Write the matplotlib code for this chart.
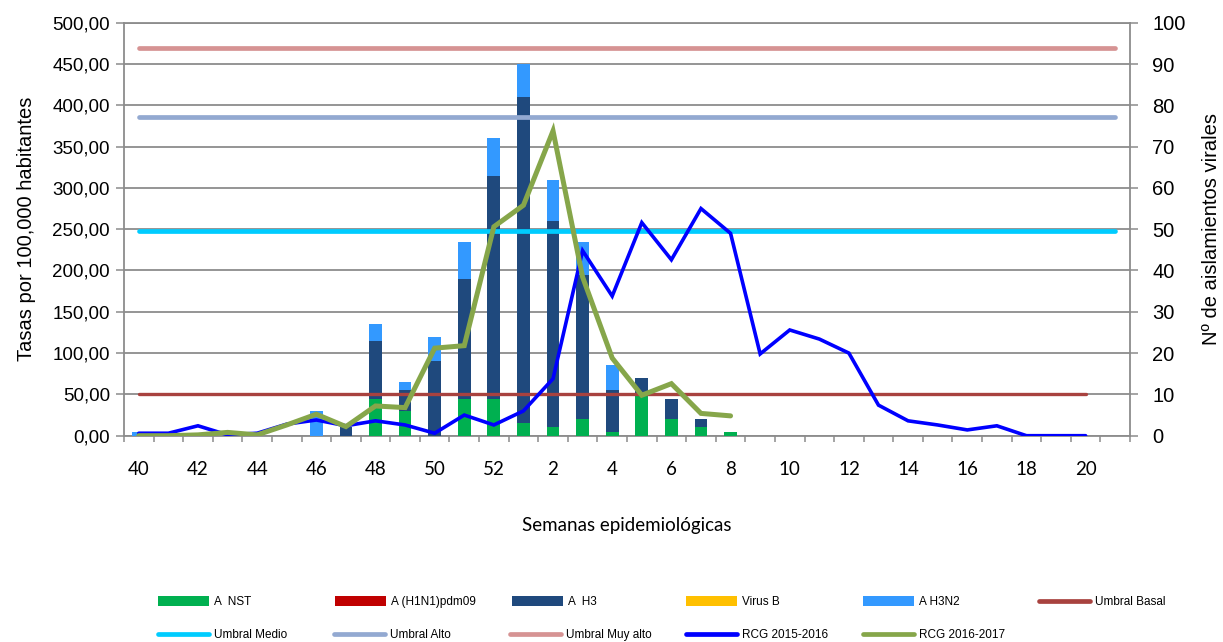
import matplotlib
matplotlib.use('Agg')
import matplotlib.pyplot as plt
import numpy as np
from matplotlib.patches import Patch
from matplotlib.lines import Line2D

# ---------------- data ----------------
weeks = list(range(40, 53)) + list(range(1, 22))          # 34 epidemiological weeks

# isolations (right axis, count)
a_nst    = [0, 0, 0, 0, 0, 0, 0, 0, 9, 6, 0, 9, 9, 3, 2, 4, 1, 10, 4, 2, 1,
            0, 0, 0, 0, 0, 0, 0, 0, 0, 0, 0, 0, 0]
a_h1n1   = [0] * 34
a_h3     = [0, 0, 0, 0, 0, 0, 0, 2, 14, 5, 18, 29, 54, 79, 50, 35, 10, 4, 5, 2, 0,
            0, 0, 0, 0, 0, 0, 0, 0, 0, 0, 0, 0, 0]
virus_b  = [0] * 34
a_h3n2   = [1, 0, 0, 0, 0, 0, 6, 0, 4, 2, 6, 9, 9, 8, 10, 8, 6, 0, 0, 0, 0,
            0, 0, 0, 0, 0, 0, 0, 0, 0, 0, 0, 0, 0]

# rates (left axis, per 100,000)
rcg_2015_2016 = [3, 3, 12, 1, 3, 14, 19, 12, 18, 13, 3, 25, 13, 30, 69, 224, 169,
                 258, 213, 275, 245, 99, 128, 117, 100, 37, 18, 13, 7, 12, 0, 0, 0]
rcg_2016_2017 = [0, 0, 1, 4, 1, 13, 26, 11, 36, 34, 106, 109, 253, 279, 369, 192,
                 94, 49, 63, 27, 24]

umbral_basal    = [50] * 33
umbral_medio    = [248] * 34
umbral_alto     = [386] * 34
umbral_muy_alto = [469] * 34

# ---------------- style ----------------
C_NST, C_H1N1, C_H3, C_B, C_H3N2 = '#00B050', '#C00000', '#1F497D', '#FFC000', '#3399FF'
C_BASAL, C_MEDIO, C_ALTO, C_MUY = '#A8423F', '#00CCFF', '#93A9D1', '#D69393'
C_1516, C_1617 = '#0000FF', '#86A64A'
GRAY = '#8C8C8C'

W, H = 1223, 642
fig = plt.figure(figsize=(W / 100, H / 100), dpi=100)
x0, x1, ytop, ybot = 124, 1130, 22.7, 435.7
ax = fig.add_axes([x0 / W, 1 - ybot / H, (x1 - x0) / W, (ybot - ytop) / H])
ax2 = ax.twinx()
# ax -> counts on right ; ax2 -> rates on left
ax.yaxis.tick_right()
ax.yaxis.set_label_position('right')
ax2.yaxis.tick_left()
ax2.yaxis.set_label_position('left')

x = np.arange(len(weeks))

# stacked bars
bw = 0.43
bottom = np.zeros(len(weeks))
for vals, col in [(a_nst, C_NST), (a_h1n1, C_H1N1), (a_h3, C_H3),
                  (virus_b, C_B), (a_h3n2, C_H3N2)]:
    v = np.array(vals, dtype=float)
    ax.bar(x, v, bw, bottom=bottom, color=col, linewidth=0, zorder=3)
    bottom += v

ax.set_ylim(0, 100)
ax.set_yticks(np.arange(0, 101, 10))
ax.set_xlim(-0.5, len(weeks) - 0.5)
ax.grid(axis='y', color=GRAY, linewidth=1.3, zorder=0)
ax.set_axisbelow(True)

# x ticks: boundaries as major ticks, labels at centres as minor
ax.set_xticks(np.arange(-0.5, len(weeks), 1.0))
ax.set_xticklabels([])
ax.tick_params(axis='x', which='major', direction='out', length=4.5, width=1.1, color=GRAY)
lab_pos = [i for i, w in enumerate(weeks) if w % 2 == 0]
ax.set_xticks(lab_pos, minor=True)
ax.set_xticklabels([str(weeks[i]) for i in lab_pos], minor=True,
                   fontsize=13.5, family=['Lato', 'DejaVu Sans'])
ax.tick_params(axis='x', which='minor', length=0, pad=18)

ax.tick_params(axis='y', direction='out', length=6, width=1.1, color=GRAY,
               labelsize=14.5, pad=10)
for t in ax.get_yticklabels():
    t.set_family(['Liberation Sans', 'DejaVu Sans'])

for s in ['left', 'right', 'bottom', 'top']:
    ax.spines[s].set_color(GRAY)
    ax.spines[s].set_linewidth(1.3)
for s in ax2.spines.values():
    s.set_visible(False)

# lines on rates axis
ax2.set_ylim(0, 500)
ax2.set_yticks(np.arange(0, 501, 50))
ax2.set_yticklabels([f'{v:.2f}'.replace('.', ',') for v in np.arange(0, 501, 50)],
                    family=['Liberation Sans', 'DejaVu Sans'], fontsize=13.5)
ax2.tick_params(axis='y', direction='out', length=6, width=1.1, color=GRAY, pad=4)

ax2.plot(np.arange(len(umbral_muy_alto)), umbral_muy_alto, color=C_MUY, lw=3.4,
         solid_capstyle='round', zorder=4)
ax2.plot(np.arange(len(umbral_alto)), umbral_alto, color=C_ALTO, lw=3.4,
         solid_capstyle='round', zorder=4)
ax2.plot(np.arange(len(umbral_medio)), umbral_medio, color=C_MEDIO, lw=3.4,
         solid_capstyle='round', zorder=4)
ax2.plot(np.arange(len(umbral_basal)), umbral_basal, color=C_BASAL, lw=2.4,
         solid_capstyle='round', zorder=4)
ax2.plot(np.arange(len(rcg_2015_2016)), rcg_2015_2016, color=C_1516, lw=2.6,
         solid_capstyle='round', solid_joinstyle='miter', zorder=5)
ax2.plot(np.arange(len(rcg_2016_2017)), rcg_2016_2017, color=C_1617, lw=3.6,
         solid_capstyle='round', solid_joinstyle='miter', zorder=6)

ax2.set_ylabel('Tasas por 100,000 habitantes', fontsize=14.5,
               family=['Liberation Sans', 'DejaVu Sans'], labelpad=12)
ax.set_ylabel('Nº de aislamientos virales', fontsize=14.5,
              family=['Liberation Sans', 'DejaVu Sans'], labelpad=12)
ax.set_xlabel('Semanas epidemiológicas', fontsize=13.5,
              family=['Lato', 'DejaVu Sans'], labelpad=28)

# legend: one legend per entry at fixed positions
entries = [
    (Patch(color=C_NST, lw=0), 'A  NST', 158, 602),
    (Patch(color=C_H1N1, lw=0), 'A (H1N1)pdm09', 335, 602),
    (Patch(color=C_H3, lw=0), 'A  H3', 512, 602),
    (Patch(color=C_B, lw=0), 'Virus B', 686, 602),
    (Patch(color=C_H3N2, lw=0), 'A H3N2', 863, 602),
    (Line2D([], [], color=C_BASAL, lw=3.4, solid_capstyle='round'), 'Umbral Basal', 1039, 602),
    (Line2D([], [], color=C_MEDIO, lw=3.4, solid_capstyle='round'), 'Umbral Medio', 158, 635),
    (Line2D([], [], color=C_ALTO, lw=3.4, solid_capstyle='round'), 'Umbral Alto', 334, 635),
    (Line2D([], [], color=C_MUY, lw=3.4, solid_capstyle='round'), 'Umbral Muy alto', 510, 635),
    (Line2D([], [], color=C_1516, lw=3.4, solid_capstyle='round'), 'RCG 2015-2016', 686, 635),
    (Line2D([], [], color=C_1617, lw=3.4, solid_capstyle='round'), 'RCG 2016-2017', 863, 635),
]
for h, lab, px, py in entries:
    fig.legend(handles=[h], labels=[lab], loc='center left',
               bbox_to_anchor=(px / W, 1 - py / H), frameon=False,
               borderpad=0, borderaxespad=0, handlelength=4.3, handleheight=0.9,
               handletextpad=0.45,
               prop={'family': ['Liberation Sans Narrow', 'Liberation Sans'], 'size': 8.5})

fig.savefig('out.png', dpi=100)
